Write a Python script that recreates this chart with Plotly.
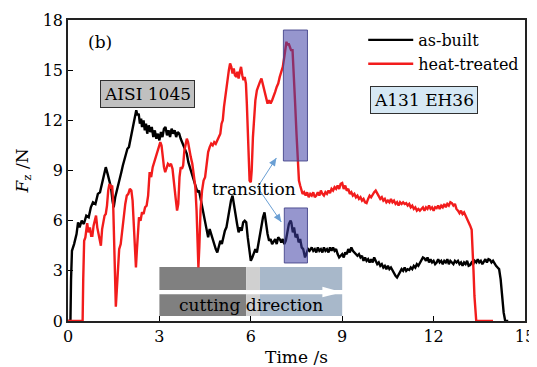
import plotly.graph_objects as go

# ---------------- data ----------------
t_asbuilt = [0.00, 0.08, 0.10, 0.13, 0.20, 0.28, 0.33, 0.38, 0.45, 0.52, 0.60, 0.68, 0.75, 0.82, 0.90, 0.98,
             1.05, 1.12, 1.18, 1.24, 1.30, 1.36, 1.41, 1.46, 1.50, 1.55, 1.62, 1.70, 1.75, 1.80, 1.86, 1.90,
             1.95, 2.00, 2.05, 2.10, 2.15, 2.20, 2.24, 2.28, 2.32, 2.36, 2.40, 2.43, 2.48, 2.52, 2.56, 2.60,
             2.65, 2.70, 2.75, 2.80, 2.85, 2.90, 2.95, 3.00, 3.05, 3.10, 3.15, 3.20, 3.25, 3.30, 3.35, 3.40,
             3.45, 3.50, 3.55, 3.60, 3.65, 3.70, 3.75, 3.80, 3.85, 3.90, 3.95, 4.00, 4.05, 4.10, 4.15, 4.20,
             4.25, 4.30, 4.35, 4.40, 4.45, 4.50, 4.55, 4.60, 4.65, 4.70, 4.75, 4.80, 4.85, 4.90, 4.95, 5.00,
             5.05, 5.10, 5.15, 5.20, 5.25, 5.30, 5.35, 5.40, 5.45, 5.50, 5.55, 5.60, 5.65, 5.70, 5.75, 5.80,
             5.85, 5.90, 5.95, 6.00, 6.05, 6.10, 6.15, 6.20, 6.25, 6.30, 6.35, 6.40, 6.45, 6.50, 6.55, 6.60,
             6.65, 6.70, 6.75, 6.80, 6.85, 6.90, 6.95, 7.00, 7.05, 7.10, 7.15, 7.20, 7.25, 7.30, 7.33, 7.38,
             7.42, 7.47, 7.52, 7.57, 7.62, 7.67, 7.72, 7.78, 7.82, 7.88, 7.93, 8.00, 8.05, 8.10, 8.15, 8.20,
             8.25, 8.30, 8.35, 8.40, 8.45, 8.50, 8.55, 8.60, 8.65, 8.70, 8.75, 8.80, 8.85, 8.90, 8.95, 9.00,
             9.05, 9.10, 9.15, 9.20, 9.25, 9.30, 9.35, 9.40, 9.45, 9.50, 9.55, 9.60, 9.65, 9.70, 9.75, 9.80,
             9.85, 9.90, 9.95, 10.00, 10.05, 10.10, 10.15, 10.20, 10.25, 10.30, 10.35, 10.40, 10.45, 10.50,
             10.55, 10.60, 10.65, 10.70, 10.75, 10.80, 10.85, 10.90, 10.95, 11.00, 11.05, 11.10, 11.15, 11.20,
             11.25, 11.30, 11.35, 11.40, 11.45, 11.50, 11.55, 11.60, 11.65, 11.70, 11.75, 11.80, 11.85, 11.90,
             11.95, 12.00, 12.05, 12.10, 12.15, 12.20, 12.25, 12.30, 12.35, 12.40, 12.45, 12.50, 12.55, 12.60,
             12.65, 12.70, 12.75, 12.80, 12.85, 12.90, 12.95, 13.00, 13.05, 13.10, 13.15, 13.20, 13.25, 13.30,
             13.35, 13.40, 13.45, 13.50, 13.55, 13.60, 13.65, 13.70, 13.75, 13.80, 13.85, 13.90, 13.95, 14.00,
             14.05, 14.10, 14.15, 14.20, 14.25, 14.30, 14.35, 14.45]
f_asbuilt = [0.0, 0.0, 2.5, 4.2, 4.6, 5.2, 5.9, 5.6, 6.0, 5.8, 6.3, 6.2, 6.8, 7.1, 7.0, 7.6,
             7.7, 8.3, 8.6, 9.2, 8.8, 8.3, 8.0, 7.2, 6.8, 7.4, 8.0, 8.6, 8.9, 9.3, 9.7, 9.9,
             10.3, 10.4, 10.9, 11.2, 11.8, 12.2, 12.6, 12.3, 12.4, 11.8, 12.1, 11.6, 12.0, 11.4, 11.8, 11.2,
             11.7, 11.3, 11.6, 11.0, 11.4, 10.9, 11.2, 10.8, 11.3, 11.0, 11.5, 11.6, 11.1, 11.4, 11.0, 11.5,
             11.2, 11.4, 11.0, 11.3, 11.2, 10.9, 10.7, 10.4, 10.2, 10.0, 9.5, 9.2, 8.9, 8.6, 8.2, 8.0,
             7.7, 7.8, 7.3, 6.8, 6.4, 5.8, 5.3, 5.0, 5.5, 5.2, 4.8, 4.5, 4.3, 4.1, 4.4, 4.8,
             4.6, 5.1, 5.4, 5.6, 6.2, 6.8, 7.2, 7.5, 6.9, 6.2, 5.8, 5.3, 5.6, 5.4, 5.9, 6.0,
             5.9, 5.0, 4.2, 3.6, 3.8, 4.0, 4.3, 4.1, 4.6, 5.2, 5.8, 6.2, 6.5, 5.8, 5.2, 4.8,
             4.9, 4.6, 4.8, 4.9, 4.6, 5.0, 4.9, 4.7, 4.9, 4.6, 4.8, 5.2, 5.8, 6.0, 5.9, 5.3,
             5.6, 5.0, 5.2, 4.7, 4.9, 4.4, 4.3, 3.8, 4.0, 4.3, 4.2, 4.4, 4.2, 4.3, 4.1, 4.4,
             4.2, 4.3, 4.1, 4.4, 4.2, 4.3, 4.1, 4.4, 4.2, 4.4, 4.2, 4.3, 4.0, 3.8, 3.9, 4.0,
             3.8, 4.1, 4.0, 4.3, 4.1, 4.4, 4.2, 4.1, 4.0, 3.9, 4.0, 3.8, 3.9, 3.6, 3.8, 3.6,
             3.7, 3.5, 3.7, 3.5, 3.8, 3.6, 3.4, 3.5, 3.3, 3.4, 3.2, 3.3, 3.1, 3.3,
             3.1, 3.2, 3.0, 2.9, 2.7, 2.6, 2.8, 3.0, 3.1, 3.0, 3.2, 3.0, 3.1, 3.05,
             3.2, 3.1, 3.3, 3.2, 3.4, 3.3, 3.5, 3.6, 3.8, 3.75, 3.6, 3.8, 3.5, 3.7,
             3.5, 3.6, 3.4, 3.5, 3.7, 3.5, 3.6, 3.4, 3.6, 3.5, 3.7, 3.4, 3.6, 3.5,
             3.4, 3.6, 3.5, 3.6, 3.4, 3.5, 3.3, 3.5, 3.4, 3.6, 3.3, 3.35, 3.5, 3.4,
             3.6, 3.5, 3.7, 3.5, 3.6, 3.4, 3.6, 3.7, 3.5, 3.7, 3.65, 3.5, 3.6, 3.4,
             3.3, 3.2, 3.1, 2.5, 1.5, 0.5, 0.0, 0.0]

t_heat = [0.00, 0.48, 0.50, 0.53, 0.57, 0.60, 0.63, 0.67, 0.72, 0.76, 0.80, 0.84, 0.88, 0.92, 0.96, 1.00,
          1.04, 1.08, 1.12, 1.16, 1.20, 1.24, 1.28, 1.32, 1.36, 1.40, 1.45, 1.48, 1.51, 1.54, 1.57, 1.60,
          1.64, 1.68, 1.73, 1.78, 1.83, 1.88, 1.93, 1.98, 2.03, 2.08, 2.12, 2.16, 2.20, 2.23, 2.26, 2.30,
          2.33, 2.38, 2.43, 2.48, 2.53, 2.58, 2.63, 2.68, 2.73, 2.78, 2.83, 2.88, 2.93, 2.98, 3.03, 3.07,
          3.11, 3.15, 3.19, 3.23, 3.28, 3.33, 3.38, 3.43, 3.48, 3.53, 3.58, 3.62, 3.66, 3.70, 3.74, 3.78,
          3.82, 3.86, 3.90, 3.94, 3.98, 4.03, 4.08, 4.13, 4.18, 4.22, 4.25, 4.28, 4.31, 4.35, 4.40, 4.45,
          4.50, 4.55, 4.60, 4.65, 4.70, 4.75, 4.80, 4.85, 4.90, 4.95, 5.00, 5.04, 5.08, 5.12, 5.16, 5.20,
          5.24, 5.28, 5.32, 5.36, 5.40, 5.44, 5.48, 5.52, 5.56, 5.60, 5.64, 5.68, 5.72, 5.76, 5.80, 5.84,
          5.87, 5.90, 5.93, 5.96, 6.00, 6.03, 6.07, 6.11, 6.15, 6.20, 6.25, 6.30, 6.35, 6.40, 6.45, 6.50,
          6.55, 6.60, 6.65, 6.70, 6.75, 6.80, 6.85, 6.90, 6.95, 7.00, 7.05, 7.10, 7.14, 7.17, 7.20, 7.24,
          7.28, 7.32, 7.37, 7.41, 7.45, 7.50, 7.55, 7.58, 7.62, 7.66, 7.70, 7.75, 7.80, 7.85, 7.90, 7.95,
          8.00, 8.05, 8.10, 8.15, 8.20, 8.25, 8.30, 8.35, 8.40, 8.45, 8.50, 8.55, 8.60, 8.65, 8.70, 8.75,
          8.80, 8.85, 8.90, 8.95, 9.00, 9.05, 9.10, 9.15, 9.20, 9.25, 9.30, 9.35, 9.40, 9.45, 9.50, 9.55,
          9.60, 9.65, 9.70, 9.75, 9.80, 9.85, 9.90, 9.95, 10.00, 10.05, 10.10, 10.15, 10.20, 10.25, 10.30,
          10.35, 10.40, 10.45, 10.50, 10.55, 10.60, 10.65, 10.70, 10.75, 10.80, 10.85, 10.90, 10.95, 11.00,
          11.05, 11.10, 11.15, 11.20, 11.25, 11.30, 11.35, 11.40, 11.45, 11.50, 11.55, 11.60, 11.65, 11.70,
          11.75, 11.80, 11.85, 11.90, 11.95, 12.00, 12.05, 12.10, 12.15, 12.20, 12.25, 12.30, 12.35, 12.40,
          12.45, 12.50, 12.55, 12.60, 12.65, 12.70, 12.75, 12.80, 12.85, 12.90, 12.95, 13.00, 13.05, 13.10,
          13.15, 13.20, 13.25, 13.28, 13.31, 13.34, 13.37, 13.40, 13.95]
f_heat = [0.0, 0.0, 2.5, 4.8, 5.0, 5.6, 5.85, 5.3, 5.6, 5.1, 5.1, 5.7, 6.0, 6.3, 5.6, 5.2,
          4.9, 4.5, 5.5, 6.0, 6.3, 6.4, 6.9, 7.8, 8.2, 8.0, 8.1, 7.2, 5.0, 2.5, 0.85, 1.8,
          3.5, 4.3, 4.6, 5.5, 6.4, 7.0, 7.5, 7.6, 7.9, 7.8, 7.2, 5.5, 3.8, 3.2, 4.2, 5.6,
          6.2, 6.0, 6.5, 6.4, 6.8, 6.9, 7.5, 8.9, 8.6, 9.2, 9.5, 9.8, 10.1, 10.3, 10.7, 10.5,
          9.8, 9.2, 8.9, 9.1, 9.4, 9.3, 9.4, 9.1, 8.4, 7.4, 6.6, 7.0, 8.6, 9.2, 9.1, 9.3,
          10.2, 10.5, 10.9, 10.7, 10.2, 9.8, 9.4, 8.8, 8.0, 6.6, 4.8, 3.2, 4.4, 6.6, 7.8, 8.4,
          8.6, 9.4, 10.1, 10.4, 10.6, 10.5, 10.7, 10.6, 10.8, 10.9, 11.2, 11.8, 12.0, 12.8, 13.4, 13.8,
          14.6, 15.0, 15.4, 15.2, 14.8, 15.1, 14.7, 14.6, 14.9, 14.5, 14.9, 15.2, 14.7, 14.4, 14.6, 14.2,
          13.0, 11.0, 9.2, 8.4, 8.3, 9.0, 11.0, 12.5, 13.2, 13.8, 14.1, 14.3, 14.5, 14.1, 13.6, 13.3,
          13.0, 13.2, 13.0, 13.2, 13.4, 13.7, 14.0, 14.2, 14.6, 14.9, 15.2, 15.8, 16.3, 16.7, 16.5, 16.6,
          16.4, 16.2, 16.2, 15.0, 13.2, 11.2, 9.2, 8.4, 8.1, 7.8, 7.6, 7.7, 7.5, 7.7, 7.4, 7.6,
          7.5, 7.7, 7.4, 7.5, 7.7, 7.5, 7.8, 7.6, 7.5, 7.7, 7.6, 7.8, 7.65, 7.9, 7.8, 8.0,
          7.9, 8.1, 7.9, 8.2, 8.25, 7.9, 8.1, 7.8, 7.9, 7.6, 7.7, 7.5, 7.6, 7.4, 7.5, 7.3,
          7.4, 7.2, 7.3, 7.1, 7.05, 7.3, 7.5, 7.4, 7.6, 7.7, 7.8, 7.6, 7.5, 7.3, 7.4,
          7.2, 7.3, 7.1, 7.2, 7.1, 7.3, 7.1, 7.2, 7.0, 7.1, 6.9, 7.1, 7.0, 7.1,
          7.0, 7.05, 6.9, 7.0, 6.8, 6.9, 6.7, 6.8, 6.6, 6.7, 6.6, 6.7, 6.8, 6.6,
          6.8, 6.7, 6.9, 6.7, 6.8, 6.6, 6.8, 6.75, 6.9, 6.7, 6.9, 6.8, 7.0, 6.8,
          7.0, 6.9, 7.1, 7.05, 6.9, 7.0, 6.7, 6.6, 6.45, 6.6, 6.4, 6.5, 6.3, 6.2,
          6.0, 5.7, 5.45, 4.5, 3.0, 1.5, 0.5, 0.0, 0.0]

series_names = ["as-built", "heat-treated"]
x_ticks = [0, 3, 6, 9, 12, 15]
y_ticks = [0, 3, 6, 9, 12, 15, 18]

FONT = "DejaVu Serif"
# the page body has an 8 px margin, so the figure is drawn 8 px smaller
W, H = 529, 359
ML, MR, MT, MB = 60, 12, 12, 46
XR, YR = (0, 15), (0, 18)
PX_X = (W - ML - MR) / (XR[1] - XR[0])   # px per x unit
PX_Y = (H - MT - MB) / (YR[1] - YR[0])   # px per y unit


def arrow_head(x_from, y_from, x_to, y_to, length=8, half_w=3.5):
    """Triangle path (data coords) for an arrowhead pointing from -> to, sized in px."""
    dx = (x_to - x_from) * PX_X
    dy = (y_to - y_from) * PX_Y
    n = (dx * dx + dy * dy) ** 0.5
    ux, uy = dx / n, dy / n
    bx, by = -ux * length, -uy * length
    px_, py_ = -uy * half_w, ux * half_w
    p1 = (x_to + (bx + px_) / PX_X, y_to + (by + py_) / PX_Y)
    p2 = (x_to + (bx - px_) / PX_X, y_to + (by - py_) / PX_Y)
    return f"M {x_to} {y_to} L {p1[0]} {p1[1]} L {p2[0]} {p2[1]} Z"


fig = go.Figure()
fig.add_trace(go.Scatter(x=t_asbuilt, y=f_asbuilt, mode="lines", name=series_names[0],
                         line=dict(color="#000000", width=2.4)))
fig.add_trace(go.Scatter(x=t_heat, y=f_heat, mode="lines", name=series_names[1],
                         line=dict(color="#f21c1c", width=2.4)))

shapes = []
# cutting direction bars (top and bottom strips)
for y0, y1 in [(1.85, 3.23), (0.3, 1.6)]:
    shapes.append(dict(type="rect", xref="x", yref="y", x0=3.0, x1=5.85, y0=y0, y1=y1,
                       fillcolor="#808080", line=dict(width=0), layer="below"))
    shapes.append(dict(type="rect", xref="x", yref="y", x0=5.85, x1=6.3, y0=y0, y1=y1,
                       fillcolor="#d0d0d0", line=dict(width=0), layer="below"))
    shapes.append(dict(type="rect", xref="x", yref="y", x0=6.3, x1=9.0, y0=y0, y1=y1,
                       fillcolor="#a8b8ca", line=dict(width=0), layer="below"))
# white arrow (shaft + head)
shapes.append(dict(type="line", xref="x", yref="y", x0=3.0, x1=8.4, y0=1.72, y1=1.72,
                   line=dict(color="#ffffff", width=3), layer="below"))
shapes.append(dict(type="path", xref="x", yref="y",
                   path="M 8.35 2.05 L 9.0 1.72 L 8.35 1.42 Z",
                   fillcolor="#ffffff", line=dict(width=0), layer="below"))
# transition boxes
for x0, x1, y0, y1 in [(7.07, 7.86, 9.57, 17.4), (7.1, 7.86, 3.47, 6.76)]:
    shapes.append(dict(type="rect", xref="x", yref="y", x0=x0, x1=x1, y0=y0, y1=y1,
                       fillcolor="rgba(64,64,165,0.55)",
                       line=dict(color="rgba(70,70,140,0.9)", width=1), layer="above"))
# blue arrows from "transition"
arrow_src = (6.22, 8.0)
for tip in [(6.84, 9.75), (7.0, 5.92)]:
    shapes.append(dict(type="line", xref="x", yref="y", x0=arrow_src[0], y0=arrow_src[1],
                       x1=tip[0], y1=tip[1], line=dict(color="#6a9fd4", width=1), layer="above"))
    shapes.append(dict(type="path", xref="x", yref="y",
                       path=arrow_head(arrow_src[0], arrow_src[1], tip[0], tip[1]),
                       fillcolor="#6a9fd4", line=dict(width=0), layer="above"))

annotations = [
    dict(text="(b)", x=1.05, y=16.7, xref="x", yref="y", showarrow=False,
         font=dict(family=FONT, size=17, color="black")),
    dict(text="AISI 1045", x=2.6, y=13.55, xref="x", yref="y", showarrow=False,
         font=dict(family=FONT, size=17, color="black"), bgcolor="#c0c0c0",
         bordercolor="#303030", borderwidth=1, borderpad=3),
    dict(text="A131 EH36", x=11.68, y=13.22, xref="x", yref="y", showarrow=False,
         font=dict(family=FONT, size=17, color="black"), bgcolor="#d6e8f4",
         bordercolor="#303030", borderwidth=1, borderpad=3),
    dict(text="cutting direction", x=6.0, y=0.95, xref="x", yref="y", showarrow=False,
         font=dict(family=FONT, size=17, color="black")),
    dict(text="transition", x=6.12, y=7.9, xref="x", yref="y", showarrow=False,
         font=dict(family=FONT, size=17, color="black")),
]

fig.update_layout(
    width=W, height=H,
    margin=dict(l=ML, r=MR, t=MT, b=MB, autoexpand=False),
    paper_bgcolor="white", plot_bgcolor="white",
    font=dict(family=FONT, size=16, color="black"),
    shapes=shapes, annotations=annotations,
    showlegend=True,
    legend=dict(x=0.646, y=0.99, xanchor="left", yanchor="top", bgcolor="rgba(0,0,0,0)",
                font=dict(family=FONT, size=16), itemwidth=45, tracegroupgap=0),
)
fig.update_xaxes(range=list(XR), tickvals=x_ticks, ticks="inside", ticklen=5, tickcolor="black",
                 showline=True, linecolor="#222222", linewidth=1.5, mirror=True, showgrid=False,
                 zeroline=False, tickfont=dict(family=FONT, size=16), automargin=False,
                 title=dict(text="Time /s", font=dict(family=FONT, size=17), standoff=14))
fig.update_yaxes(range=list(YR), tickvals=y_ticks, ticks="inside", ticklen=5, tickcolor="black",
                 showline=True, linecolor="#222222", linewidth=1.5, mirror=True, showgrid=False,
                 zeroline=False, tickfont=dict(family=FONT, size=16), automargin=False,
                 title=dict(text="<i>F</i><sub>z</sub> /N", font=dict(family=FONT, size=17), standoff=10))

fig.write_html("out.html")
